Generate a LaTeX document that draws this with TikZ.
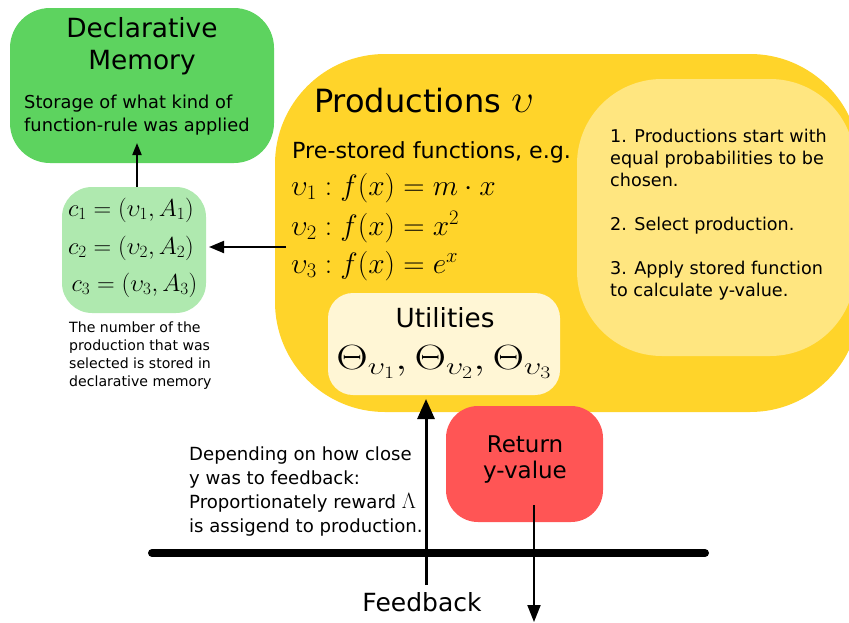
\RequirePackage{fix-cm}
\documentclass[tikz,border=0pt]{standalone}
\usepackage[no-math]{fontspec}
\usepackage{graphicx}
\setmainfont{DejaVu Sans}
\usetikzlibrary{arrows.meta}
\definecolor{dmgreen}{HTML}{5DD35F}
\definecolor{chgreen}{HTML}{AFE9AF}
\definecolor{prodyel}{HTML}{FFD42A}
\definecolor{stepyel}{HTML}{FFE680}
\definecolor{utilyel}{HTML}{FFF6D5}
\definecolor{retred}{HTML}{FF5555}
\tikzset{
  box/.style={draw=none, rounded corners=#1},
  conn/.style n args={3}{line width=#1, -{Triangle[length=#2,width=#3]}},
  fs/.style 2 args={font=\fontsize{#1pt}{#2pt}\selectfont, inner sep=0pt},
}
\begin{document}
\begin{tikzpicture}[x=1pt,y=-1pt]
\useasboundingbox (0,0) rectangle (849,622);
\clip (0,0) rectangle (849,622);
% boxes
\fill[box=40pt, dmgreen] (10,8) rectangle (274,163);
\node[coordinate] (dm) at (137,143) {};
\fill[box=30pt, chgreen] (62,187) rectangle (206,313);
\fill[box=110pt, prodyel] (275,54) rectangle (860,412);
\fill[box=85pt, stepyel] (577,79) rectangle (855,356);
\fill[box=25pt, utilyel] (328,293) rectangle (560,395);
\fill[box=32pt, retred] (446,406) rectangle (603,522);

% Declarative memory
\node[fs={26.4}{32}, align=center] (dmt) at (142,46) {Declarative\\Memory};
\node[fs={17.8}{23.5}, anchor=west, align=left] (dmd) at (24,115) {Storage of what kind of\\function-rule was applied};

% chunks
\node[fs={24.5}{30}] (c1) at (131,210) {$c_1=(\upsilon_1,A_1)$};
\node[fs={24.5}{30}] (c2) at (131,248) {$c_2=(\upsilon_2,A_2)$};
\node[fs={24.5}{30}] (c3) at (134.5,285) {$c_3=(\upsilon_3,A_3)$};
\node[coordinate] (chtop) at (137,187) {};
\node[coordinate] (chright) at (209,247) {};
\node[fs={14.1}{17.8}, anchor=west, align=left] (note) at (69,355.5) {The number of the\\production that was\\selected is stored in\\declarative memory};

% productions
\node[fs={32}{36}, anchor=base west] (pt) at (314,112) {Productions {\fontsize{40pt}{44pt}\selectfont$\upsilon$}};
\node[fs={22.2}{27}, anchor=west] (ps) at (292,152) {Pre-stored functions, e.g.};
\node[fs={29.5}{34}, anchor=west] (f1) at (291,188) {$\upsilon_1: f(x)=m\cdot x$};
\node[fs={29.5}{34}, anchor=west] (f2) at (291,227) {$\upsilon_2: f(x)=x^2$};
\node[fs={29.5}{34}, anchor=west] (f3) at (291,266) {$\upsilon_3: f(x)=e^x$};
\node[coordinate] (pleft) at (286,247) {};

% steps
\node[fs={17.6}{22.1}, anchor=west, align=left] (steps) at (610,214.5)
  {1. Productions start with\\equal probabilities to be\\chosen.\\\mbox{}\\2. Select production.\\\mbox{}\\3. Apply stored function\\to calculate y-value.};

% utilities
\node[fs={26.3}{30}] (ut) at (445,318) {Utilities};
\node[fs={35}{38}] (th) at (444,362) {\scalebox{1.25}[1]{$\Theta_{\upsilon_1},\Theta_{\upsilon_2},\Theta_{\upsilon_3}$}};
\node[coordinate] (ubot) at (426,399) {};

% return
\node[fs={23}{26}, align=center] (ret) at (525,459) {Return\\y-value};
\node[coordinate] (retb) at (534,505) {};
\node[coordinate] (down) at (534,622) {};

% feedback
\draw[line width=8pt, line cap=round] (152,553) coordinate (l1) -- (705,553) coordinate (l2);
\node[coordinate] (fbs) at (426,585) {};
\node[fs={25}{30}] (fb) at (422,602) {Feedback};
\node[fs={18.1}{24}, anchor=west, align=left] (dep) at (189,491)
  {Depending on how close\\y was to feedback:\\Proportionately reward {\fontsize{22pt}{24pt}\selectfont$\Lambda$}\\is assigend to production.};

% connectors
\draw[conn={2pt}{12pt}{9pt}] (chtop) -- (dm);
\draw[conn={2pt}{15pt}{12pt}] (pleft) -- (chright);
\draw[conn={3pt}{20pt}{17pt}] (fbs) -- (ubot);
\draw[conn={2pt}{17pt}{13pt}] (retb) -- (down);
\end{tikzpicture}
\end{document}
